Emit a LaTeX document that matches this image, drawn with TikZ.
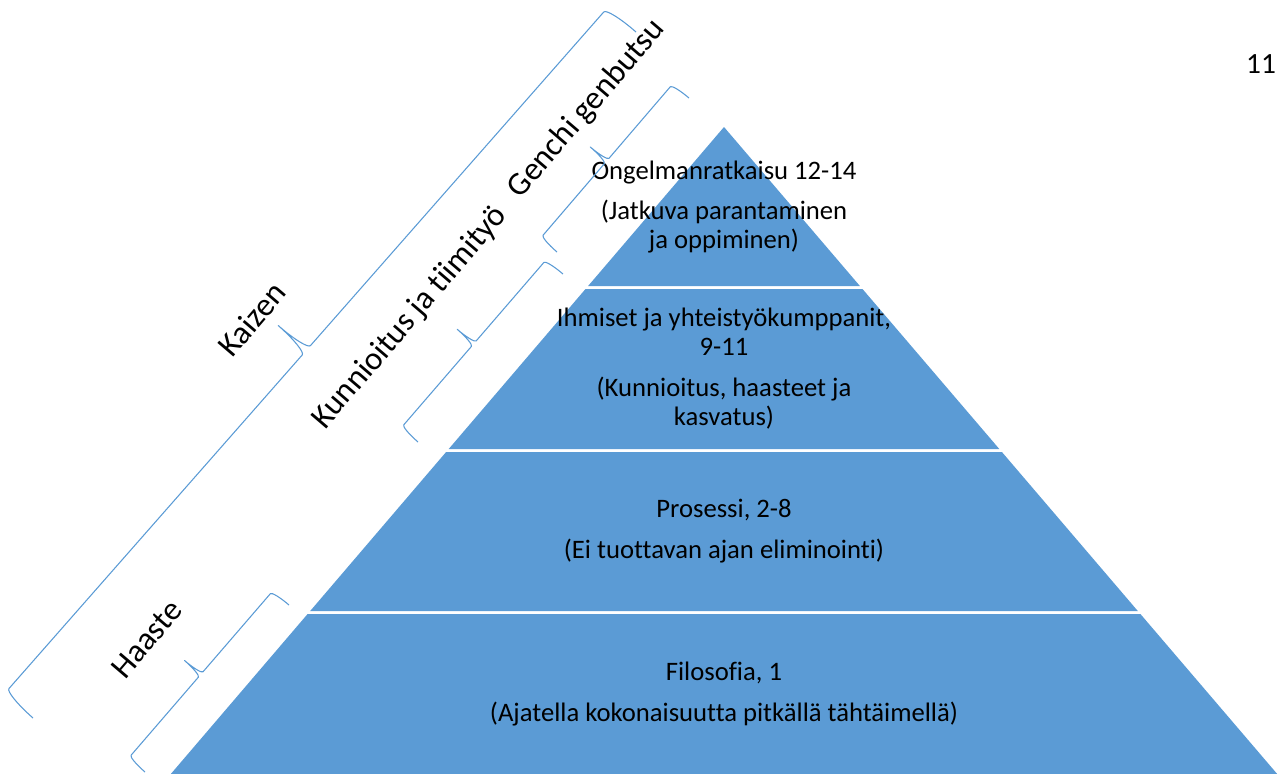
\documentclass[tikz,border=0pt]{standalone}
\usepackage{fontspec}
\setmainfont{Carlito}[Ligatures=NoCommon]
\usetikzlibrary{positioning}

\definecolor{pyrblue}{HTML}{5B9BD5}

\tikzset{
  layer/.style={fill=pyrblue},
  bracestyle/.style={draw=pyrblue, line width=0.8pt, line join=round},
  pyrtext/.style={font=\fontsize{20}{21.2}\selectfont, align=center, anchor=base, inner sep=0pt},
  sidetext/.style={font=\fontsize{24.5}{28}\selectfont, rotate=49.5, inner sep=0pt}
}

% brace drawn like an office "right brace", bulging to the left of start->end
% #1,#2 start, #3 angle, #4 length, #5 depth
\newcommand{\wordbrace}[5]{%
  \begin{scope}[shift={(#1,#2)}, rotate=#3]
    \pgfmathsetmacro{\brcorner}{#5/6}
    \draw[bracestyle] (0,0)
      arc[start angle=180, end angle=90, x radius=\brcorner, y radius=#5]
      -- ({#4/2-\brcorner},#5)
      arc[start angle=270, end angle=360, x radius=\brcorner, y radius=#5]
      arc[start angle=180, end angle=270, x radius=\brcorner, y radius=#5]
      -- ({#4-\brcorner},#5)
      arc[start angle=90, end angle=0, x radius=\brcorner, y radius=#5];
  \end{scope}}

\begin{document}
\begin{tikzpicture}[x=0.75pt, y=0.75pt]

      \useasboundingbox (0,0) rectangle (1278,-774);

      % The pyramid, four layers with a thin white gap between them
      \fill[layer] (724,-127) -- (859.9,-286) -- (588.1,-286) -- cycle;
      \fill[layer] (585.5,-289) -- (862.5,-289) -- (999.3,-449) -- (448.7,-449) -- cycle;
      \fill[layer] (446.1,-452) -- (1001.9,-452) -- (1137.8,-611) -- (310.2,-611) -- cycle;
      \fill[layer] (307.6,-614) -- (1140.4,-614) -- (1277.2,-774) -- (170.8,-774) -- cycle;

      % Texts of the layers (base = baseline of the last line)
      \node[pyrtext] (ongelma) at (724,-179) {Ongelmanratkaisu 12-14};
      \node[pyrtext] (jatkuva) at (724,-248) {(Jatkuva parantaminen\\ja oppiminen)};

      \node[pyrtext] (ihmiset) at (724,-355) {Ihmiset ja yhteistyökumppanit,\\9-11};
      \node[pyrtext] (kunnioitus) at (724,-425) {(Kunnioitus, haasteet ja\\kasvatus)};

      \node[pyrtext] (prosessi) at (724,-517) {Prosessi, 2-8};
      \node[pyrtext] (eliminointi) at (724,-558) {(Ei tuottavan ajan eliminointi)};

      \node[pyrtext] (filosofia) at (724,-680) {Filosofia, 1};
      \node[pyrtext] (ajatella) at (724,-721) {(Ajatella kokonaisuutta pitkällä tähtäimellä)};

      % Page number
      \node[pyrtext, font=\fontsize{22}{24}\selectfont] (sivu) at (1261,-74) {11};

      % Braces along the left side
      \wordbrace{33}{-718}{48.68}{913.4}{37.5}   % Kaizen, all levels
      \wordbrace{145}{-772}{49.23}{220.5}{21.5}  % Haaste, bottom level
      \wordbrace{418}{-442}{49.21}{221.9}{22}    % Kunnioitus, second level
      \wordbrace{557}{-252}{49.4}{202.8}{21.5}   % Genchi, top level

      %% Labels of the braces
      \node[sidetext] (kaizen) at (252,-319) {Kaizen};
      \node[sidetext] (haaste) at (147,-639) {Haaste};
      \node[sidetext] (tiimityo) at (410,-318) {Kunnioitus ja tiimityö};
      \node[sidetext] (genchi) at (587,-109) {Genchi genbutsu};

\end{tikzpicture}
\end{document}
